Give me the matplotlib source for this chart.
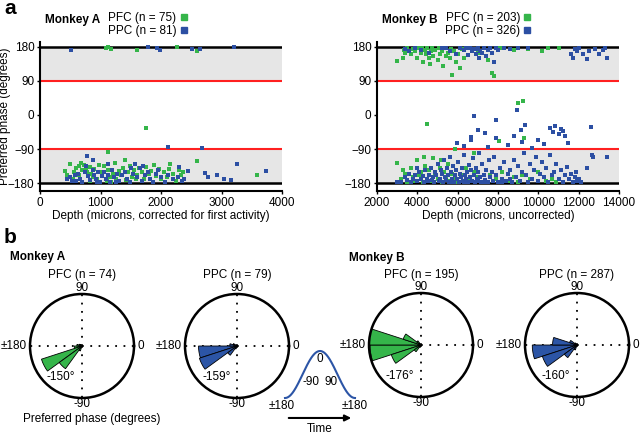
import numpy as np
import matplotlib.pyplot as plt

plt.rcParams['font.family'] = ['Liberation Sans', 'DejaVu Sans']
plt.rcParams['font.size'] = 8.5

green = '#35b54a'
blue = '#2c4fa3'

# ---- panel a data: depth (microns) vs preferred phase (deg) ----
a_pfc_depth = [1090, 1180, 1600, 2260, 2590, 1120, 1750, 1120, 3590, 2590,
               420, 450, 500, 560, 600, 640, 680, 700, 720, 760, 780, 820, 850, 880, 900,
               950, 1000, 1030, 1060, 1100, 1130, 1160, 1200, 1240, 1260, 1300, 1340, 1380,
               1420, 1450, 1480, 1520, 1560, 1600, 1640, 1680, 1720, 1760, 1800, 1840, 1880,
               1920, 1960, 2000, 2050, 2100, 2150, 2200, 2250, 2290, 2330, 2360, 820, 1180,
               1400, 640, 1580, 2140, 540, 980]
a_pfc_phase = [178, 175, 172, 179, 168, 180, -34, -97, -158, -121,
               -148, -160, -130, -150, -140, -135, -128, -145, -132, -140, -150, -138, -155, -165, -142,
               -170, -150, -160, -135, -175, -145, -165, -155, -128, -170, -148, -160, -140,
               -172, -152, -135, -165, -145, -158, -140, -150, -170, -138, -155, -148, -132,
               -162, -142, -170, -150, -165, -130, -155, -175, -145, -160, -150, -175, -178,
               -120, -160, -170, -142, -170, -132]

a_ppc_depth = [520, 1790, 1930, 1990, 2520, 2640, 3200,
               2120, 2680, 780, 3250, 3730, 2730, 2920, 3040, 3150, 2440, 2770,
               450, 500, 530, 580, 620, 660, 700, 740, 800, 830, 870, 900, 930, 960, 990,
               1020, 1060, 1090, 1120, 1150, 1190, 1230, 1270, 1310, 1350, 1400, 1440, 1480,
               1530, 1570, 1610, 1650, 1690, 1730, 1780, 1820, 1870, 1910, 1950, 2000, 2060,
               2120, 2200, 2280, 2340, 2380, 870, 1700, 950, 1250, 1500, 2300, 760, 600, 1120]
a_ppc_phase = [172, 179, 177, 172, 175, 174, 179,
               -84, -88, -108, -130, -147, -154, -158, -168, -173, -147, -163,
               -170, -165, -175, -160, -155, -168, -178, -150, -162, -172, -145, -158, -168, -150, -176,
               -162, -150, -170, -158, -178, -145, -165, -155, -175, -160, -150, -168, -178,
               -155, -130, -165, -140, -175, -158, -150, -168, -178, -155, -145, -165, -178,
               -160, -170, -165, -175, -168, -120, -135, -178, -178, -140, -138, -135, -175, -130]

b_pfc_depth = [3000, 3300, 3350, 3400, 3500, 3700, 3800, 3900, 4000, 4100, 4200, 4300, 4400,
               4450, 4500, 4600, 4700, 4750, 4800, 4900, 5000, 5050, 5100, 5200, 5250, 5300,
               5400, 5500, 5600, 5650, 5700, 5800, 5900, 6000, 6100, 6200, 6300, 7000, 7700,
               7800, 7500, 8100, 8800, 9500, 10200, 10500, 11000, 3600, 4250, 4650,
               4460, 9010, 9260, 9300, 8050, 5850, 6800,
               3000, 3200, 3400, 3500, 3700, 3800, 3900, 4000, 4100, 4200, 4300, 4400, 4500,
               4600, 4700, 4800, 4900, 5000, 5100, 5200, 5300, 5400, 5500, 5600, 5700, 5800,
               5900, 6000, 6200, 6400, 6600, 6800, 7000, 7200, 7400, 7600, 7900, 8200, 8500,
               8800, 9000, 9200, 9600, 10000, 10400, 10700, 10900, 3300, 4350, 5150]
b_pfc_phase = [142, 150, 172, 165, 178, 160, 175, 170, 152, 178, 165, 140, 172,
               160, 178, 150, 168, 178, 155, 172, 145, 176, 162, 170, 130, 178,
               155, 165, 150, 175, 105, 168, 140, 160, 125, 175, 150, 165, 112,
               102, 145, 178, 172, 175, 168, 178, 176, 168, 178, 135,
               -24, 31, 38, -60, -70, -90, -100,
               -128, -170, -155, -178, -140, -165, -175, -120, -160, -150, -178, -135, -168,
               -145, -175, -115, -158, -170, -140, -178, -150, -165, -130, -175, -155, -168,
               -145, -178, -160, -140, -172, -150, -165, -178, -145, -160, -170, -150, -175,
               -165, -178, -160, -170, -150, -175, -168, -178, -145, -110, -120]

b_ppc_depth = [3400, 3600, 3900, 4200, 4600, 5200, 5600, 5900, 6100, 6300, 6500, 6600, 6700,
               6800, 6900, 7000, 7050, 7100, 7200, 7300, 7400, 7500, 7600, 7700, 7800, 7900,
               8000, 8300, 8600, 9000, 9500, 11600, 11700, 11800, 11900, 12000, 12200, 12400,
               12500, 12800, 13000, 13200, 13300, 13400, 6400, 6950, 5400,
               8930, 6810, 7880, 9330, 7030, 7360, 9140, 10600, 10750, 10850, 11000, 11100,
               11200, 11300, 12610, 11470, 5950, 6660, 6680, 9180, 7500, 8500, 9700, 10300,
               6300, 7900, 10000, 8800,
               3200, 3400, 3500, 3600, 3700, 3800, 3900, 4000, 4100, 4200, 4300, 4350, 4400,
               4500, 4550, 4600, 4700, 4750, 4800, 4850, 4900, 4950, 5000, 5050, 5100, 5150,
               5200, 5250, 5300, 5350, 5400, 5450, 5500, 5550, 5600, 5650, 5700, 5750, 5800,
               5850, 5900, 5950, 6000, 6050, 6100, 6150, 6200, 6250, 6300, 6350, 6400, 6450,
               6500, 6550, 6600, 6650, 6700, 6750, 6800, 6850, 6900, 6950, 7000, 7050, 7100,
               7150, 7200, 7300, 7350, 7400, 7500, 7550, 7600, 7700, 7750, 7800, 7900, 8000,
               8100, 8200, 8300, 8400, 8500, 8600, 8700, 8800, 8900, 9000, 9100, 9200, 9300,
               9400, 9500, 9600, 9700, 9800, 9900, 10000, 10100, 10200, 10300, 10400, 10500,
               10600, 10700, 10800, 10900, 11000, 11100, 11200, 11300, 11400, 11500, 11600,
               11700, 11800, 11850, 11900, 12000, 12100, 12400, 12700, 13400, 12650, 5600,
               6300, 7000, 7300, 8200, 8600, 4000, 3000]
b_ppc_phase = [175, 168, 178, 172, 165, 178, 170, 162, 178, 172, 158, 178, 168,
               174, 160, 178, 150, 170, 165, 178, 155, 172, 178, 165, 140, 178,
               172, 178, 175, 178, 176, 160, 150, 175, 168, 178, 162, 148,
               170, 175, 160, 172, 176, 150, 178, 175, 176,
               13, -4, -14, -26, -40, -48, -41, -35, -45, -30, -50, -38,
               -42, -55, -31, -75, -73, -57, -66, -71, -85, -80, -88, -78,
               -82, -60, -65, -55,
               -178, -165, -172, -155, -178, -168, -160, -175, -150, -170, -162, -178, -145,
               -168, -175, -158, -140, -172, -165, -178, -150, -160, -130, -175, -168, -145,
               -155, -178, -120, -165, -172, -140, -158, -178, -110, -150, -168, -135, -176,
               -160, -145, -170, -125, -178, -155, -165, -140, -175, -105, -160, -170, -150,
               -178, -132, -165, -145, -175, -115, -160, -178, -140, -170, -150, -100, -165,
               -178, -130, -158, -172, -145, -178, -120, -165, -150, -175, -110, -160, -178,
               -140, -168, -125, -175, -155, -145, -178, -120, -165, -135, -175, -150, -100,
               -160, -178, -130, -168, -145, -110, -175, -155, -125, -165, -140, -178,
               -105, -160, -150, -130, -170, -145, -178, -160, -138, -170, -155,
               -178, -165, -150, -175, -168, -178, -140, -112, -110, -105, -178,
               -178, -175, -178, -178, -170, -140, -178]

phase_ticks = [180, 90, 0, -90, -180]

# ---- panel b data: rose histograms (18 deg bins), radius as fraction of max ----
rose_centers = [-171, -153, -135, -117, 171, 153, 135]
a_pfc_rose = [0.15, 0.82, 0.54, 0.10, 0.10, 0.06, 0.04]
a_ppc_rose = [0.74, 0.76, 0.22, 0.06, 0.14, 0.08, 0.03]
b_pfc_rose = [0.98, 0.60, 0.16, 0.05, 1.00, 0.36, 0.10]
b_ppc_rose = [0.86, 0.70, 0.30, 0.10, 0.47, 0.15, 0.05]

fig = plt.figure(figsize=(6.4, 4.34), dpi=100)
W, H = 640.0, 434.0


def scatter_panel(left_px, xlim, xticks, xlabel, pfc, ppc):
    ax = fig.add_axes([left_px / W, 1 - 191 / H, 242 / W, 149 / H])
    ax.axhspan(90, 180, color='#e6e6e6', lw=0, zorder=0)
    ax.axhspan(-180, -90, color='#e6e6e6', lw=0, zorder=0)
    for y in (90, -90):
        ax.axhline(y, color='#ff2020', lw=1.5, zorder=1)
    for y in (180, -180):
        ax.axhline(y, color='k', lw=1.8, zorder=1)
    ax.scatter(pfc[0], pfc[1], marker='s', s=7, color=green, lw=0, zorder=3)
    ax.scatter(ppc[0], ppc[1], marker='s', s=7, color=blue, lw=0, zorder=3)
    ax.set_xlim(*xlim)
    ax.set_ylim(-201, 193)
    ax.set_xticks(xticks)
    ax.set_yticks(phase_ticks)
    ax.set_xlabel(xlabel, labelpad=1)
    for s in ('top', 'right'):
        ax.spines[s].set_visible(False)
    for s in ('left', 'bottom'):
        ax.spines[s].set_linewidth(1.5)
    ax.tick_params(length=2, width=1, pad=2)
    return ax


ax1 = scatter_panel(40, (0, 4000), [0, 1000, 2000, 3000, 4000],
                    'Depth (microns, corrected for first activity)',
                    (a_pfc_depth, a_pfc_phase), (a_ppc_depth, a_ppc_phase))
ax1.set_ylabel('Preferred phase (degrees)')
ax1.yaxis.set_label_coords(-0.12, 0.5)
ax2 = scatter_panel(377, (2000, 14000), [2000, 4000, 6000, 8000, 10000, 12000, 14000],
                    'Depth (microns, uncorrected)',
                    (b_pfc_depth, b_pfc_phase), (b_ppc_depth, b_ppc_phase))

# panel a headers with legend-style squares after the labels
for ax, name, name_x, leg_x, labels in [
        (ax1, 'Monkey A', 45, 108, ['PFC (n = 75)', 'PPC (n = 81)']),
        (ax2, 'Monkey B', 382, 445, ['PFC (n = 203)', 'PPC (n = 326)'])]:
    fig.text(name_x / W, 1 - 20 / H, name, fontweight='bold', va='center')
    h1 = plt.Line2D([], [], marker='s', ls='', color=green, markersize=4.2)
    h2 = plt.Line2D([], [], marker='s', ls='', color=blue, markersize=4.2)
    ax.legend([h1, h2], labels, markerfirst=False, frameon=False,
              loc='upper left', bbox_to_anchor=(leg_x / W, 1 - 12 / H),
              bbox_transform=fig.transFigure, borderpad=0, borderaxespad=0,
              handletextpad=0.2, handlelength=0.8, labelspacing=0.1)

fig.text(4 / W, 1 - 9 / H, 'a', fontweight='bold', fontsize=15, va='center')
fig.text(4 / W, 1 - 238 / H, 'b', fontweight='bold', fontsize=15, va='center')
fig.text(10 / W, 1 - 257 / H, 'Monkey A', fontweight='bold', va='center')
fig.text(349 / W, 1 - 258 / H, 'Monkey B', fontweight='bold', va='center')


def rose_panel(cx, cy, title, radii, color, mean_label):
    r = 52
    ax = fig.add_axes([(cx - r) / W, 1 - (cy + r) / H, 2 * r / W, 2 * r / H],
                      projection='polar')
    ax.set_ylim(0, 1)
    ax.grid(False)
    ax.set_yticks([])
    ax.set_xticks([])
    for a in (0, 90, 180, 270):
        ax.plot([np.deg2rad(a)] * 2, [0, 1], ls=(0, (1, 3.6)), color='k', lw=1.3, zorder=1)
    ax.bar(np.deg2rad(rose_centers), radii, width=np.deg2rad(18), color=color,
           edgecolor='k', lw=0.6, zorder=2)
    ax.spines['polar'].set_linewidth(1.8)
    ax.text(0.5, 1.0, '90', transform=ax.transAxes, ha='center', va='bottom')
    ax.text(0.5, -0.0, '-90', transform=ax.transAxes, ha='center', va='top')
    ax.text(1.03, 0.5, '0', transform=ax.transAxes, ha='left', va='center')
    ax.text(-0.03, 0.5, '±180', transform=ax.transAxes, ha='right', va='center')
    ax.text(0.3, 0.2, mean_label, transform=ax.transAxes, ha='center', va='center')
    fig.text(cx / W, 1 - 275 / H, title, ha='center', va='center')
    return ax


rose_panel(82, 346, 'PFC (n = 74)', a_pfc_rose, green, '-150°')
rose_panel(237, 346, 'PPC (n = 79)', a_ppc_rose, '#2c55a6', '-159°')
rose_panel(421, 345, 'PFC (n = 195)', b_pfc_rose, green, '-176°')
rose_panel(577, 345, 'PPC (n = 287)', b_ppc_rose, '#2c55a6', '-160°')
fig.text(92 / W, 1 - 419 / H, 'Preferred phase (degrees)', ha='center', va='center')

# phase schematic
phase = np.linspace(-180, 180, 181)
axs = fig.add_axes([285 / W, 1 - 398 / H, 70 / W, 47 / H])
axs.plot(phase, np.cos(np.deg2rad(phase)), color='#2c55a6', lw=1.5, clip_on=False)
axs.set_xlim(-180, 180)
axs.set_ylim(-1, 1)
axs.axis('off')
axs.text(0, 0.66, '0', ha='center', va='center')
axs.text(-46, -0.32, '-90', ha='center', va='center')
axs.text(57, -0.32, '90', ha='center', va='center')
axs.text(-196, -1.34, '±180', ha='center', va='center')
axs.text(180, -1.34, '±180', ha='center', va='center')
axs.annotate('', xy=(175, -1.85), xytext=(-175, -1.85), annotation_clip=False,
             arrowprops=dict(arrowstyle='-|>', lw=1.5, color='k', mutation_scale=9))
axs.text(0, -2.32, 'Time', ha='center', va='center')

fig.savefig('out.png', dpi=100)
